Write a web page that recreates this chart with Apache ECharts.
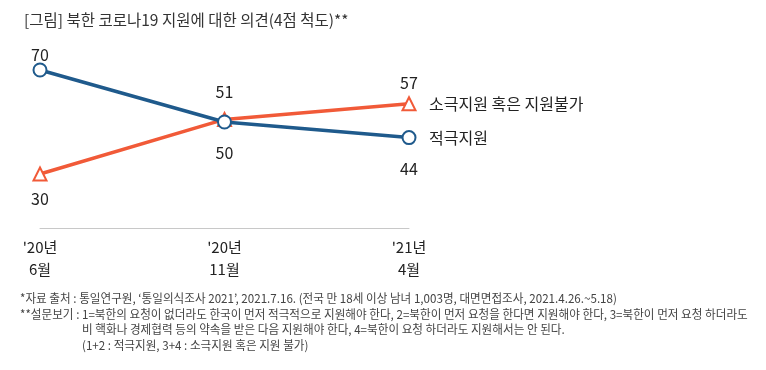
<!DOCTYPE html>
<html><head><meta charset="utf-8">
<script src="https://cdn.jsdelivr.net/npm/echarts@6/dist/echarts.min.js"></script>
<style>html,body{margin:0;padding:0;background:#fff}#c{width:766px;height:370px}</style>
</head><body><div id="c"></div>
<script>
const categories = ["'20년\n6월", "'20년\n11월", "'21년\n4월"];
const activeSupport = [70, 50, 44];
const passiveOrNone = [30, 51, 57];
const activeLabelPos = ['top', 'bottom', 'bottom'];
const passiveLabelPos = ['bottom', 'top', 'top'];
const activeLabelGap = [0, 15, 16];
const passiveLabelGap = [9, 12, 5];
const seriesNames = ['적극지원', '소극지원 혹은 지원불가'];
const titleText = '[그림] 북한 코로나19 지원에 대한 의견(4점 척도)**';
const notes = [
  "*자료 출처 : 통일연구원, ‘통일의식조사 2021’, 2021.7.16. (전국 만 18세 이상 남녀 1,003명, 대면면접조사, 2021.4.26.~5.18)",
  "**설문보기 : 1=북한의 요청이 없더라도 한국이 먼저 적극적으로 지원해야 한다, 2=북한이 먼저 요청을 한다면 지원해야 한다, 3=북한이 먼저 요청 하더라도",
  "비 핵화나 경제협력 등의 약속을 받은 다음 지원해야 한다, 4=북한이 요청 하더라도 지원해서는 안 된다.",
  "(1+2 : 적극지원, 3+4 : 소극지원 혹은 지원 불가)"
];
const FONT = '"Noto Sans CJK KR", "Noto Sans", sans-serif';
const chart = echarts.init(document.getElementById('c'));
const blue = '#1f5a8c', orange = '#f15a38';
function noteText(i, x, y, sx) {
  return {type:'text', left:x, top:y, scaleX:sx, originX:0,
    style:{text:notes[i], font:'12px ' + FONT, fill:'#444'}};
}
function withLabels(vals, pos, gap) {
  return vals.map((v, i) => ({value:v, label:{position:pos[i], distance:gap[i]}}));
}
chart.setOption({
  animation:false,
  title:{text:titleText, left:19, top:7, textStyle:{fontFamily:FONT, fontSize:15.5, fontWeight:'normal', color:'#333'}},
  grid:{left:40, right:357, top:46.6, bottom:370-228.6},
  xAxis:{type:'category', data:categories, boundaryGap:false,
    axisLine:{lineStyle:{color:'#c8c8c8', width:1}}, axisTick:{show:false},
    axisLabel:{fontFamily:FONT, fontSize:15, color:'#222', lineHeight:22, margin:8}},
  yAxis:{type:'value', min:9, max:79, show:false, splitLine:{show:false}},
  series:[
    {name:seriesNames[0], type:'line', data:withLabels(activeSupport, activeLabelPos, activeLabelGap),
      symbol:'circle', symbolSize:13, lineStyle:{color:blue, width:3.5},
      itemStyle:{color:'#fff', borderColor:blue, borderWidth:2},
      label:{show:true, fontFamily:FONT, fontSize:16, color:'#222'},
      endLabel:{show:true, formatter:seriesNames[0], fontFamily:FONT, fontSize:16, color:'#222', distance:20},
      z:3},
    {name:seriesNames[1], type:'line', data:withLabels(passiveOrNone, passiveLabelPos, passiveLabelGap),
      symbol:'triangle', symbolSize:13, lineStyle:{color:orange, width:3.5},
      itemStyle:{color:'#fff', borderColor:orange, borderWidth:2},
      label:{show:true, fontFamily:FONT, fontSize:16, color:'#222'},
      endLabel:{show:true, formatter:seriesNames[1], fontFamily:FONT, fontSize:16, color:'#222', distance:20},
      z:2}
  ],
  graphic:[
    noteText(0, 20, 292, 0.967),
    noteText(1, 20, 308, 0.967),
    noteText(2, 82, 323, 0.967),
    noteText(3, 82, 339, 0.967)
  ]
});
</script></body></html>
